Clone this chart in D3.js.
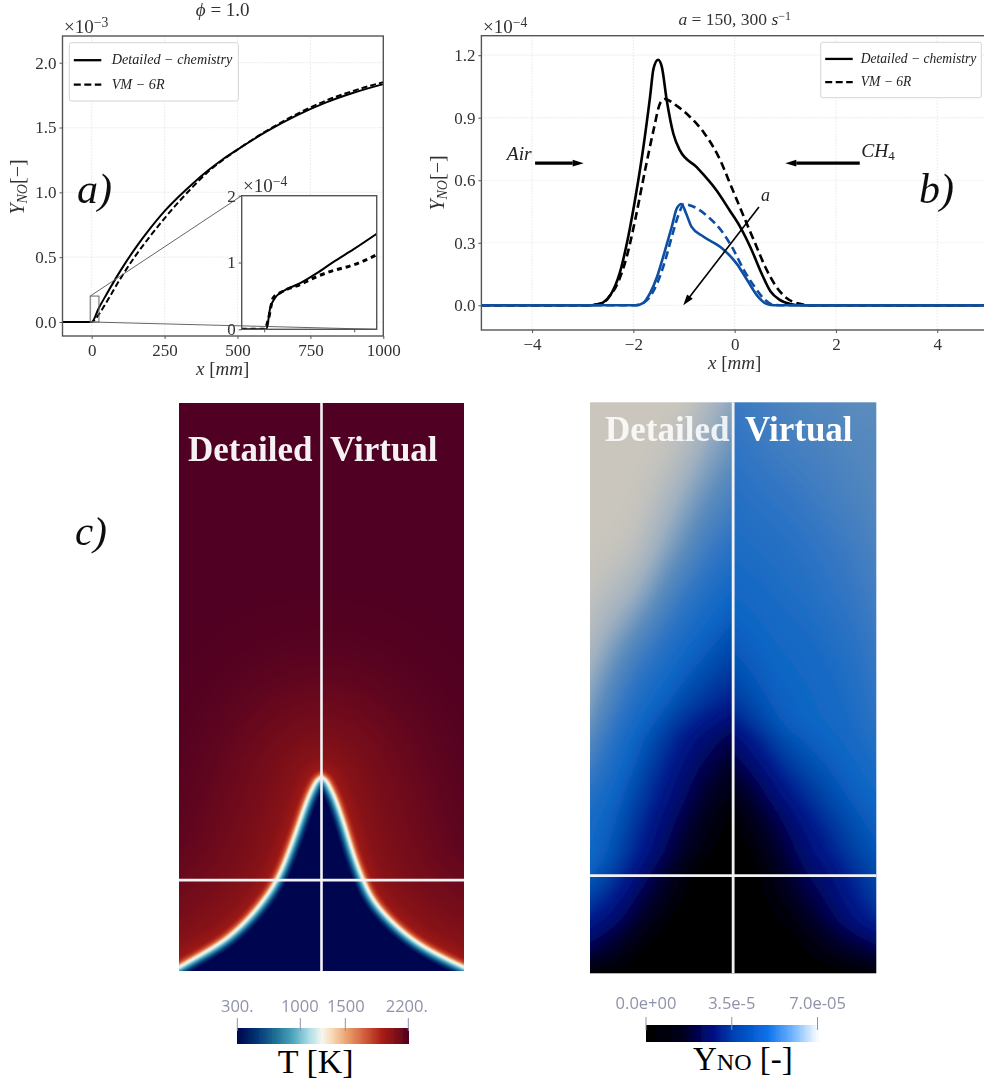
<!DOCTYPE html>
<html>
<head>
<meta charset="utf-8">
<script src="https://cdn.jsdelivr.net/npm/d3@7"></script>
<style>
html,body{margin:0;padding:0;background:#fff;overflow:hidden;}
svg{display:block;}
text{font-family:"Liberation Serif",serif;}
.tick text{font-size:17px;fill:#333;}
.bar text{font-family:"Open Sans",sans-serif;font-size:16.5px;fill:#8f92a8;}
</style>
</head>
<body>
<svg id="chart" width="984" height="1084"></svg>
<script>
// panel a, Y_NO x 1e3 against x [mm]
const aX=[-100,0,25,50,100,150,200,250,300,350,400,450,500,600,700,800,900,1000];
const aDetailed=[0,0,.11,.21,.40,.57,.72,.855,.97,1.075,1.17,1.255,1.33,1.47,1.59,1.69,1.77,1.835];
const aVM=[0,0,.06,.15,.34,.51,.66,.80,.93,1.05,1.16,1.25,1.33,1.475,1.6,1.705,1.785,1.85];
const aXTicks=[0,250,500,750,1000];
const aYTicks=[0,.5,1,1.5,2];

// inset of panel a, Y_NO x 1e4
const inX=[-5,.5,1.3,2.4,4.2,8,11.7,15.4,19.9,25];
const inDetailed=[0,0,.31,.47,.57,.69,.84,1.01,1.2,1.43];
const inXVM=[-5,.1,.9,2,4.2,8,11.7,15.4,19.9,25];
const inVM=[0,0,.14,.47,.57,.67,.79,.88,.965,1.115];

// panel b, Y_NO x 1e4 against x [mm]
const bBlackX=[-5,-2.9,-2.74,-2.6,-2.45,-2.27,-2.1,-1.95,-1.81,-1.67,-1.6,-1.51,-1.44,-1.34,-1.21,-1.08,-.75,-.36,-.1,.1,.32,.53,.71,.89,1.1,1.3,5];
const bBlack=[0,0,.003,.013,.05,.154,.33,.53,.745,1.0,1.138,1.178,1.146,.983,.823,.743,.663,.552,.456,.38,.274,.154,.066,.026,.006,0,0];
const bBlackDashX=[-5,-2.9,-2.6,-2.45,-2.31,-2.13,-1.95,-1.78,-1.6,-1.47,-1.38,-1.17,-.89,-.6,-.32,-.04,.18,.39,.6,.82,1.03,1.24,1.53,5];
const bBlackDash=[0,0,.012,.05,.106,.234,.426,.634,.842,.97,.99,.962,.906,.826,.714,.554,.426,.306,.186,.09,.034,.01,0,0];
const bBlueX=[-5,-1.95,-1.81,-1.67,-1.53,-1.39,-1.24,-1.14,-1.05,-.96,-.85,-.62,-.25,.04,.25,.46,.64,.78,5];
const bBlue=[0,0,.01,.058,.138,.25,.378,.466,.486,.442,.376,.33,.274,.2,.12,.042,.006,0,0];
const bBlueDashX=[-5,-1.95,-1.8,-1.67,-1.53,-1.39,-1.24,-1.1,-1,-.82,-.53,-.25,-.04,.18,.39,.6,.78,.96,5];
const bBlueDash=[0,0,.012,.042,.106,.2,.33,.44,.486,.474,.426,.354,.274,.17,.09,.026,.002,0,0];
const bXTicks=[-4,-2,0,2,4];
const bYTicks=[0,.3,.6,.9,1.2];

// temperature field: flame front (radius and height, fractions of the half width and the height)
const frontLeftR=[0,.035,.061,.105,.168,.23,.31,.42,.53,.65,.77,.89,1];
const frontLeftZ=[.342,.336,.324,.301,.254,.211,.16,.12,.088,.06,.04,.023,.007];
const frontRightR=[0,.035,.061,.105,.168,.225,.3,.386,.625,.863,1];
const frontRightZ=[.342,.336,.324,.301,.254,.205,.155,.113,.055,.023,.007];
// T against distance from the front, in % of the half width
const frontDist=[-7,-5,-3,-1.2,0,1,2,3.5,6,14,28,49,70,98,140];
const frontT=[300,520,820,1100,1250,1400,1650,1830,1960,2030,2070,2110,2150,2185,2200];

const tStops=[300,533,718,904,1089,1237,1348,1533,1718,1904,2052,2200];
const tColors=["#00054f","#063a78","#1e6f96","#4ba3bb","#a8dde6","#f7f6ee","#f8d8b5","#e89a68","#cf5a3a","#a81c14","#801018","#500022"];
const tTicks=[300,1000,1500,2200];
const tTickLabels=["300.","1000","1500","2200."];

// Y_NO field, fraction of 7e-5, rows from the bottom up
const yRowsZ=[0,.04,.093,.163,.215,.303,.408,.478,.566,.653,.741,.828,.916,1];
const yDetailed=[
  [.02,0,0,0,0,0,0],
  [.2,.1,0,0,0,0,0],
  [.4,.3,.12,0,0,0,0],
  [.58,.5,.33,.15,0,0,0],
  [.62,.55,.42,.28,.1,0,0],
  [.65,.6,.5,.38,.25,.08,0],
  [.8,.68,.6,.5,.38,.3,.2],
  [.85,.75,.65,.6,.53,.47,.42],
  [.93,.84,.75,.68,.62,.57,.52],
  [.98,.94,.88,.78,.7,.65,.6],
  [1,1,.97,.88,.8,.72,.68],
  [1,1,1,.95,.87,.8,.75],
  [1,1,1,1,.95,.87,.82],
  [1,1,1,1,1,.93,.87]];
const yVirtual=[
  [0,0,0,0,0,0,.02],
  [0,0,0,0,.05,.12,.2],
  [0,0,0,.06,.22,.36,.45],
  [0,0,.08,.25,.33,.43,.52],
  [0,0,.15,.3,.4,.5,.56],
  [0,.15,.32,.43,.52,.58,.61],
  [.33,.45,.56,.6,.62,.64,.68],
  [.5,.55,.6,.61,.63,.65,.7],
  [.57,.6,.62,.63,.65,.68,.72],
  [.62,.63,.65,.66,.69,.71,.74],
  [.65,.66,.67,.69,.71,.73,.76],
  [.67,.69,.7,.72,.74,.76,.78],
  [.7,.72,.74,.75,.76,.78,.78],
  [.72,.74,.76,.78,.78,.8,.8]];
const yStops=[0,.15,.3,.4,.5,.6,.7,.8,.9,1];
const yColors=["#000000","#000030","#000a70","#001c8c","#0040a4","#0a64c4","#2f74c4","#5c8cbc","#9fb0c0","#cac6bd"];
const yBarStops=[0,.2,.38,.5,.7,.85,1];
const yBarColors=["#000000","#000018","#000a80","#003fb0","#0a70e8","#70b4ff","#ffffff"];
const yTicks=[0,3.5e-5,7e-5];
const yTickLabels=["0.0e+00","3.5e-5","7.0e-05"];

const svg=d3.select('#chart');
const axisCol='#555';
const blue='#0b4ea2';

function drawAxes(g,x,y,xTicks,yTicks,yFmt){
    let [x0,x1]=x.range(), [y1,y0]=y.range();
    let xg=g.append('g').attr('class','xaxis').attr('transform',`translate(0,${y1})`)
        .call(d3.axisBottom(x).tickValues(xTicks).tickSize(3).tickPadding(5).tickFormat(d=>String(d).replace('-','\u2212')));
    let yg=g.append('g').attr('transform',`translate(${x0},0)`)
        .call(d3.axisLeft(y).tickValues(yTicks).tickSize(3).tickPadding(3).tickFormat(yFmt));
    xg.select('.domain').remove(); yg.select('.domain').remove();
    g.selectAll('.tick line').attr('stroke',axisCol);
    g.append('rect').attr('x',x0).attr('y',y0).attr('width',x1-x0).attr('height',y1-y0)
        .attr('fill','none').attr('stroke',axisCol).attr('stroke-width',1.4);
}
function grid(g,x,y,xTicks,yTicks){
    g.selectAll('.gx').data(xTicks).join('line').attr('class','gx')
        .attr('x1',x).attr('x2',x).attr('y1',y.range()[0]).attr('y2',y.range()[1]);
    g.selectAll('.gy').data(yTicks).join('line').attr('class','gy')
        .attr('y1',y).attr('y2',y).attr('x1',x.range()[0]).attr('x2',x.range()[1]);
    g.selectAll('line').attr('stroke','#eef0f2').attr('stroke-width',1.2).attr('stroke-dasharray','2 1');
}
function curve(g,x,y,xs,ys,col,w,dash){
    let line=d3.line().x(i=>x(xs[i])).y(i=>y(ys[i])).curve(d3.curveMonotoneX);
    g.append('path').attr('d',line(d3.range(xs.length))).attr('fill','none')
        .attr('stroke',col).attr('stroke-width',w).attr('stroke-dasharray',dash||null);
}
function legend(g,x0,y0,w,h,size,textDx){
    g.append('rect').attr('x',x0).attr('y',y0).attr('width',w).attr('height',h).attr('rx',2)
        .attr('fill','#fff').attr('stroke','#d4d4d8').attr('stroke-width',1);
    [['Detailed \u2212 chemistry',null,h*.3],['VM \u2212 6R','7 3.5',h*.72]].forEach(([t,dash,dy])=>{
        g.append('line').attr('x1',x0+4.5).attr('x2',x0+32).attr('y1',y0+dy).attr('y2',y0+dy)
            .attr('stroke','#000').attr('stroke-width',2.3).attr('stroke-dasharray',dash);
        g.append('text').attr('x',x0+textDx).attr('y',y0+dy+4).attr('font-size',size)
            .attr('font-style','italic').attr('fill','#222').text(t);
    });
}
function sciLabel(g,xp,yp,exp,size){
    let t=g.append('text').attr('x',xp).attr('y',yp).attr('font-size',size).attr('fill','#333').text('\u00d710');
    t.append('tspan').attr('dy',-6).attr('font-size',size*.72).text(exp);
}
function yLabel(g,xp,yp){
    let t=g.append('text').attr('transform',`translate(${xp},${yp}) rotate(-90)`).attr('text-anchor','middle')
        .attr('font-size',20).attr('fill','#333');
    t.append('tspan').attr('font-style','italic').text('Y');
    t.append('tspan').attr('font-style','italic').attr('font-size',14).attr('dy',3).text('NO');
    t.append('tspan').attr('dy',-3).text('[\u2212]');
}
function xLabel(g,xp,yp){
    let t=g.append('text').attr('x',xp).attr('y',yp).attr('text-anchor','middle').attr('font-size',19).attr('fill','#333');
    t.append('tspan').attr('font-style','italic').text('x');
    t.append('tspan').text(' [');
    t.append('tspan').attr('font-style','italic').text('mm');
    t.append('tspan').text(']');
}
function panelMark(g,txt,xp,yp,size){
    g.append('text').attr('x',xp).attr('y',yp).attr('font-size',size).attr('font-style','italic').attr('fill','#111').text(txt);
}

svg.append('defs').append('filter').attr('id','soft').append('feGaussianBlur').attr('stdDeviation',.45);
svg.select('defs').append('clipPath').attr('id','insetClip').append('rect')
    .attr('x',241.7).attr('y',195.7).attr('width',135).attr('height',133.6);

const plots=svg.append('g').attr('filter','url(#soft)');

// ---- panel a
{
    const x=d3.scaleLinear().domain([-100,1000]).range([62.5,383.3]);
    const y=d3.scaleLinear().domain([-.108,2.206]).range([336,36]);
    const g=plots.append('g');
    grid(g.append('g'),x,y,aXTicks,aYTicks);
    curve(g,x,y,aX,aDetailed,'#000',2);
    curve(g,x,y,aX,aVM,'#000',2,'6 3');
    drawAxes(g,x,y,aXTicks,aYTicks,d3.format('.1f'));
    legend(g,69.3,42.7,169,58.3,14.2,42.4);
    sciLabel(g,64,33,'\u22123',19);
    xLabel(g,222.7,375);
    yLabel(g,24,187);
    let phi=g.append('text').attr('x',222.7).attr('y',16).attr('text-anchor','middle').attr('font-size',19).attr('fill','#333');
    phi.append('tspan').attr('font-style','italic').text('\u03d5');
    phi.append('tspan').text(' = 1.0');

    // inset
    const xi=d3.scaleLinear().domain([-5,25]).range([241.7,376.7]);
    const yi=d3.scaleLinear().domain([0,2]).range([329.3,195.7]);
    const gi=g.append('g');
    gi.append('rect').attr('x',x(-5)).attr('y',y(.2)).attr('width',x(25)-x(-5)).attr('height',y(0)-y(.2))
        .attr('fill','none').attr('stroke','#666').attr('stroke-width',1);
    gi.append('line').attr('x1',x(-5)).attr('y1',y(.2)).attr('x2',xi(-5)).attr('y2',yi(2)).attr('stroke','#666');
    gi.append('rect').attr('x',241.7).attr('y',195.7).attr('width',135).attr('height',133.6).attr('fill','#fff');
    gi.append('line').attr('x1',x(-5)).attr('y1',y(0)).attr('x2',xi(25)).attr('y2',yi(0)).attr('stroke','#666');
    const clip=gi.append('g').attr('clip-path','url(#insetClip)');
    curve(clip,xi,yi,inX,inDetailed,'#000',2);
    curve(clip,xi,yi,inXVM,inVM,'#000',3,'5 4');
    drawAxes(gi,xi,yi,[0,20],[0,1,2],d3.format('d'));
    gi.select('.xaxis').selectAll('text').remove();
    sciLabel(gi,243,192,'\u22124',19);
    panelMark(g,'a)',77,203,42);
}

// ---- panel b
{
    const x=d3.scaleLinear().domain([-5,5]).range([481.4,987.9]);
    const y=d3.scaleLinear().domain([-.1185,1.2935]).range([330,35.7]);
    const g=plots.append('g');
    grid(g.append('g'),x,y,bXTicks,bYTicks);
    curve(g,x,y,bBlackX,bBlack,'#000',2.6);
    curve(g,x,y,bBlackDashX,bBlackDash,'#000',2.6,'8 4.5');
    curve(g,x,y,bBlueX,bBlue,blue,2.6);
    curve(g,x,y,bBlueDashX,bBlueDash,blue,2.6,'8 4.5');
    drawAxes(g,x,y,bXTicks,bYTicks,d3.format('.1f'));
    legend(g,820.7,42.3,160.6,55.4,13.6,40);
    sciLabel(g,483,33,'\u22124',19);
    xLabel(g,734.7,369);
    yLabel(g,444,183);
    let title=g.append('text').attr('x',734.7).attr('y',25).attr('text-anchor','middle').attr('font-size',17.5).attr('fill','#333');
    title.append('tspan').attr('font-style','italic').text('a');
    title.append('tspan').text(' = 150, 300 ');
    title.append('tspan').attr('font-style','italic').text('s');
    title.append('tspan').attr('dy',-5).attr('font-size',12).text('\u22121');

    // feed arrows
    const arrow=(x0,x1,yv,w,hw,hl)=>{
        let dir=Math.sign(x(x1)-x(x0));
        g.append('line').attr('x1',x(x0)).attr('x2',x(x1)-dir*hl).attr('y1',y(yv)).attr('y2',y(yv)).attr('stroke','#000').attr('stroke-width',w);
        g.append('path').attr('d',`M${x(x1)},${y(yv)}L${x(x1)-dir*hl},${y(yv)-hw}L${x(x1)-dir*hl},${y(yv)+hw}Z`).attr('fill','#000');
    };
    arrow(-3.94,-2.98,.682,3.4,3.4,11);
    arrow(2.47,1,.682,3.4,3.4,11);
    g.append('text').attr('x',x(-4.5)).attr('y',y(.695)).attr('font-size',19.5).attr('font-style','italic').attr('fill','#222').text('Air');
    let ch=g.append('text').attr('x',x(2.5)).attr('y',y(.71)).attr('font-size',19.5).attr('font-style','italic').attr('fill','#222').text('CH');
    ch.append('tspan').attr('dy',3).attr('font-size',13).attr('font-style','normal').text('4');

    // strain rate arrow
    let a0=[x(.48),y(.472)], a1=[x(-1.015),y(0)];
    let ang=Math.atan2(a1[1]-a0[1],a1[0]-a0[0]);
    g.append('line').attr('x1',a0[0]).attr('y1',a0[1]).attr('x2',a1[0]-Math.cos(ang)*5).attr('y2',a1[1]-Math.sin(ang)*5).attr('stroke','#000').attr('stroke-width',1.6);
    g.append('path').attr('transform',`translate(${a1[0]},${a1[1]}) rotate(${ang*180/Math.PI})`).attr('d','M0,0L-11,-3.6L-11,3.6Z').attr('fill','#000');
    g.append('text').attr('x',x(.52)).attr('y',y(.5)).attr('font-size',18).attr('font-style','italic').attr('fill','#222').text('a');
    panelMark(g,'b)',919,203,42);
}

panelMark(plots,'c)',75,545,41);

// ---- fields
function lut(stops,colors){
    return d3.scaleLinear().domain(stops).range(colors).interpolate(d3.interpolateRgb).clamp(true);
}
function drawField(x0,x1,y0,y1,valueAt,colorOf,vDomain){
    const w=Math.round(x1-x0), h=Math.round(y1-y0);
    const cv=document.createElement('canvas'); cv.width=w; cv.height=h;
    const ctx=cv.getContext('2d'), img=ctx.createImageData(w,h);
    const toV=d3.scaleLinear().domain([0,511]).range(vDomain);
    const table=d3.range(512).map(i=>d3.rgb(colorOf(toV(i))));
    const fromV=d3.scaleLinear().domain(vDomain).range([0,511]).clamp(true);
    for(let j=0;j<h;j++){
        for(let i=0;i<w;i++){
            const c=table[Math.round(fromV(valueAt((i+.5)/w*2-1,1-(j+.5)/h,w/2,h)))];
            const k=(j*w+i)*4;
            img.data[k]=c.r; img.data[k+1]=c.g; img.data[k+2]=c.b; img.data[k+3]=255;
        }
    }
    ctx.putImageData(img,0,0);
    return svg.append('image').attr('x',x0).attr('y',y0).attr('width',x1-x0).attr('height',y1-y0)
        .attr('preserveAspectRatio','none').attr('href',cv.toDataURL());
}

const tColor=lut(tStops,tColors);
const distToT=d3.scaleLinear().domain(frontDist).range(frontT).clamp(true);
// smooth the read front with a basis spline
function smoothFront(rs,zs){
    const fr=d3.interpolateBasis(rs), fz=d3.interpolateBasis(zs);
    const ts=d3.range(0,1.0001,1/110);
    return {r:ts.map(fr),z:ts.map(fz)};
}
const sideL=smoothFront(frontLeftR,frontLeftZ), sideR=smoothFront(frontRightR,frontRightZ);
sideL.at=d3.scaleLinear().domain(sideL.r).range(sideL.z).clamp(true);
sideR.at=d3.scaleLinear().domain(sideR.r).range(sideR.z).clamp(true);
function tempAt(r,z,halfW,H){
    const side=r<0?sideL:sideR, rs=side.r, zs=side.z;
    const px=Math.abs(r)*halfW, py=z*H;
    let best=1e9;
    for(let n=0;n<rs.length-1;n++){
        const ax=rs[n]*halfW, ay=zs[n]*H, dx=rs[n+1]*halfW-ax, dy=zs[n+1]*H-ay;
        const t=Math.max(0,Math.min(1,((px-ax)*dx+(py-ay)*dy)/(dx*dx+dy*dy)));
        const d=Math.hypot(px-ax-t*dx,py-ay-t*dy);
        if(d<best) best=d;
    }
    const sign=z<side.at(Math.abs(r))?-1:1;
    return distToT(sign*best/halfW*100);
}
// Y_NO: basis spline across the read grid, one half at a time
const rowIndex=d3.scaleLinear().domain(yRowsZ).range(d3.range(yRowsZ.length)).clamp(true);
const colCache=new Map();
function noAt(r,z){
    let f=colCache.get(r);
    if(!f){
        const matrix=r<0?yDetailed:yVirtual, u=r<0?r+1:r;
        f=d3.interpolateBasis(matrix.map(row=>d3.interpolateBasis(row)(u)));
        colCache.set(r,f);
    }
    return f(rowIndex(z)/(yRowsZ.length-1));
}
const yColor=lut(yStops,yColors);

drawField(179,464,403,971,tempAt,tColor,[300,2200]);
drawField(590,876.3,402.3,973.3,noAt,yColor,[0,1]).attr('filter','url(#soft)');

function splitLines(x0,x1,y0,y1,zLine,lw){
    const xs=d3.scaleLinear().domain([-1,1]).range([x0,x1]);
    const zs=d3.scaleLinear().domain([0,1]).range([y1,y0]);
    svg.append('line').attr('x1',xs(0)).attr('x2',xs(0)).attr('y1',y0).attr('y2',y1).attr('stroke','#f2f2f4').attr('stroke-width',lw);
    svg.append('line').attr('x1',x0).attr('x2',x1).attr('y1',zs(zLine)).attr('y2',zs(zLine)).attr('stroke','#f2f2f4').attr('stroke-width',lw);
}
splitLines(179,464,403,971,.16,2.6);
splitLines(590,876.3,402.3,973.3,.171,2.8);

function fieldText(t,xp,yp,op){
    svg.append('text').attr('x',xp).attr('y',yp).attr('font-size',35).attr('font-weight','bold')
        .attr('fill','#fff').attr('fill-opacity',op).attr('filter','url(#soft)').text(t);
}
fieldText('Detailed',188,461,.95);
fieldText('Virtual',330,461,.95);
fieldText('Detailed',605,441,.85);
fieldText('Virtual',745,441,1);

// ---- colour bars
{
    const x=d3.scaleLinear().domain([300,2200]).range([237.3,408.3]);
    const g=svg.append('g').attr('class','bar').attr('filter','url(#soft)');
    g.selectAll('rect').data(d3.range(300,2200,10)).join('rect').attr('shape-rendering','crispEdges')
        .attr('x',d=>x(d)).attr('width',x(310)-x(300)+1).attr('y',1027.7).attr('height',16.6).attr('fill',d=>tColor(d));
    g.selectAll('line').data(tTicks).join('line').attr('x1',x).attr('x2',x).attr('y1',1018).attr('y2',1031).attr('stroke','#8f92a8');
    g.selectAll('text').data(tTicks).join('text').attr('x',(d,i)=>x(d)+[0,-.5,.5,-1.5][i]).attr('y',1011.5).attr('text-anchor','middle').text((d,i)=>tTickLabels[i]);
}
{
    const x=d3.scaleLinear().domain([0,7e-5]).range([646,817.5]);
    const barColor=lut(yBarStops,yBarColors);
    const g=svg.append('g').attr('class','bar').attr('filter','url(#soft)');
    g.selectAll('rect').data(d3.range(0,1,.01)).join('rect').attr('shape-rendering','crispEdges')
        .attr('x',d=>x(d*7e-5)).attr('width',x(7e-7)-x(0)+1).attr('y',1025).attr('height',17.3).attr('fill',d=>barColor(d));
    g.selectAll('line').data(yTicks).join('line').attr('x1',x).attr('x2',x).attr('y1',1017).attr('y2',1030).attr('stroke','#8f92a8');
    g.selectAll('text').data(yTicks).join('text').attr('x',x).attr('y',1009).attr('text-anchor','middle').text((d,i)=>yTickLabels[i]);
}
svg.append('text').attr('x',315.7).attr('y',1073).attr('text-anchor','middle').attr('font-size',34).attr('fill','#000').text('T [K]');
let yn=svg.append('text').attr('x',693).attr('y',1070).attr('font-size',33).attr('fill','#000').text('Y');
yn.append('tspan').attr('font-size',24).text('NO');
yn.append('tspan').attr('font-size',33).text(' [-]');
</script>
</body>
</html>
